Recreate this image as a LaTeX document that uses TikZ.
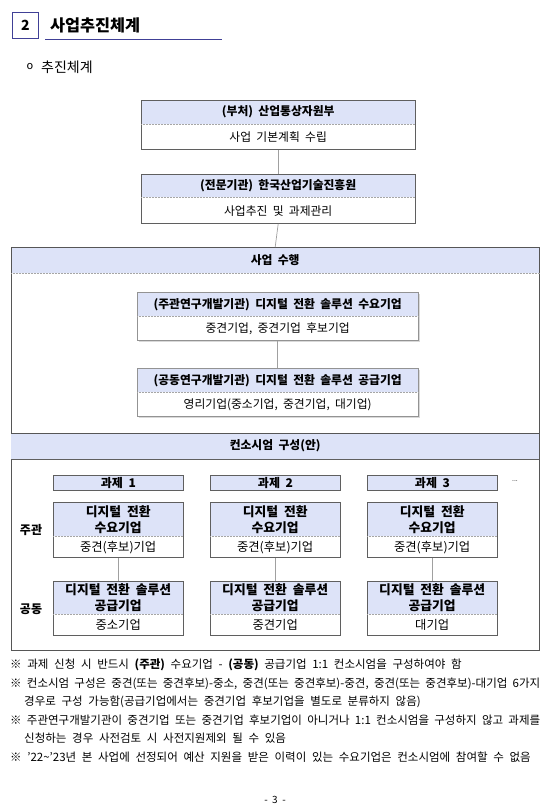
\documentclass[tikz,border=0pt]{standalone}
\usepackage{fontspec}
\setmainfont{Noto Sans CJK KR}[WordSpace=2.0]
\newfontfamily\notefont{Noto Sans CJK KR}[WordSpace={2.2,1.5,3}]
\definecolor{hdrfill}{RGB}{221,227,248}
\definecolor{navy}{RGB}{64,64,150}
\definecolor{bordc}{RGB}{95,95,95}
\definecolor{connc}{RGB}{160,160,160}
\tikzset{
  hdr/.style={fill=hdrfill, inner sep=0pt, anchor=north west, align=center,
    font=\bfseries\fontsize{11.8}{15}\selectfont},
  bdy/.style={fill=white, inner sep=0pt, anchor=north west, align=center,
    font=\fontsize{11.8}{15}\selectfont},
  bline/.style={draw=bordc, line width=0.8pt},
  fline/.style={draw=bordc!90!black, line width=0.9pt},
  sepline/.style={draw=gray!70, line width=0.5pt, densely dotted},
  conn/.style={draw=connc, line width=0.7pt},
  shad/.style={draw=gray!30, line width=1.4pt},
  lbl/.style={inner sep=0pt, font=\bfseries\fontsize{12}{14}\selectfont},
}
\begin{document}
\begin{tikzpicture}[x=1pt,y=-1pt]
\useasboundingbox (0,0) rectangle (549,812);
\fill[white] (0,0) rectangle (549,812);

% title
\node[draw=navy, line width=1.3pt, minimum width=26pt, minimum height=26pt, inner sep=0pt,
  font=\bfseries\fontsize{14}{16}\selectfont] (num) at (25.5,25.5) {2};
\node[anchor=west, inner sep=0pt, font=\bfseries\fontsize{16.3}{18}\selectfont] (title) at (50,25.5) {사업추진체계};
\coordinate (ulA) at (45,39.5);
\coordinate (ulB) at (222,39.5);
\draw[navy, line width=1pt] (ulA) -- (ulB);
\node[inner sep=0pt, font=\fontsize{11}{13}\selectfont] (bul) at (30,67) {o};
\node[anchor=west, inner sep=0pt, font=\fontsize{14}{16}\selectfont] (sub) at (41,67.5) {추진체계};

% box 1
\node[hdr, minimum width=274pt, minimum height=24pt] (b1h) at (141,100) {(부처) 산업통상자원부};
\node[bdy, minimum width=274pt, minimum height=25pt] (b1b) at (b1h.south west) {사업 기본계획 수립};
\draw[bline] (b1h.north west) rectangle (b1b.south east);
\draw[sepline] (b1h.south west) -- (b1h.south east);

% box 2
\node[hdr, minimum width=274pt, minimum height=23pt] (b2h) at (141,174) {(전문기관) 한국산업기술진흥원};
\node[bdy, minimum width=274pt, minimum height=26pt] (b2b) at (b2h.south west) {사업추진 및 과제관리};
\draw[bline] (b2h.north west) rectangle (b2b.south east);
\draw[sepline] (b2h.south west) -- (b2h.south east);

\draw[conn] (b1b.south) -- (b2h.north);

% frame
\node[hdr, minimum width=528pt, minimum height=26pt] (f1) at (11,247) {사업 수행};
\coordinate (fbr) at (539,650);
\draw[fline] (f1.north west) rectangle (fbr);
\draw[sepline] (f1.south west) -- (f1.south east);
\draw[conn] (b2b.south) -- (f1.north);

% box 3
\draw[shad] (138.5,341.2) -- (419.2,341.2) -- (419.2,293.5);
\node[hdr, minimum width=281pt, minimum height=24pt] (b3h) at (137,292) {(주관연구개발기관) 디지털 전환 솔루션 수요기업};
\node[bdy, minimum width=281pt, minimum height=24pt] (b3b) at (b3h.south west) {중견기업, 중견기업 후보기업};
\draw[bline, draw=gray!85] (b3h.north west) rectangle (b3b.south east);
\draw[sepline] (b3h.south west) -- (b3h.south east);

% box 4
\draw[shad] (138.5,417.2) -- (419.2,417.2) -- (419.2,369.5);
\node[hdr, minimum width=281pt, minimum height=24pt] (b4h) at (137,368) {(공동연구개발기관) 디지털 전환 솔루션 공급기업};
\node[bdy, minimum width=281pt, minimum height=24pt] (b4b) at (b4h.south west) {영리기업(중소기업, 중견기업, 대기업)};
\draw[bline, draw=gray!85] (b4h.north west) rectangle (b4b.south east);
\draw[sepline] (b4h.south west) -- (b4h.south east);

\draw[conn] (b3b.south) -- (b4h.north);

% consortium band
\node[hdr, minimum width=528pt, minimum height=26pt] (f2) at (11,433) {컨소시엄 구성(안)};
\draw[fline] (f2.north west) -- (f2.north east);
\draw[draw=bordc, line width=0.6pt] (f2.south west) -- (f2.south east);

% columns
\foreach \i/\x/\sup in {1/53/중소기업, 2/210/중견기업, 3/367/대기업} {
  \node[hdr, draw=bordc, line width=0.8pt, minimum width=130pt, minimum height=15pt,
    font=\bfseries\fontsize{12}{14}\selectfont] (t\i) at (\x,475) {과제 \i};
  \node[hdr, minimum width=130pt, minimum height=34pt,
    font=\bfseries\fontsize{12.8}{16}\selectfont] (d\i h) at (\x,502) {디지털 전환\\수요기업};
  \node[bdy, minimum width=130pt, minimum height=21pt,
    font=\fontsize{12.3}{14}\selectfont] (d\i b) at (d\i h.south west) {중견(후보)기업};
  \draw[bline] (d\i h.north west) rectangle (d\i b.south east);
  \draw[sepline] (d\i h.south west) -- (d\i h.south east);
  \node[hdr, minimum width=130pt, minimum height=33pt,
    font=\bfseries\fontsize{12.8}{16}\selectfont] (s\i h) at (\x,581) {디지털 전환 솔루션\\공급기업};
  \node[bdy, minimum width=130pt, minimum height=21pt,
    font=\fontsize{12.3}{14}\selectfont] (s\i b) at (s\i h.south west) {\sup};
  \draw[bline] (s\i h.north west) rectangle (s\i b.south east);
  \draw[sepline] (s\i h.south west) -- (s\i h.south east);
  \draw[conn] (d\i b.south) -- (s\i h.north);
}
\node[inner sep=0pt, font=\fontsize{7}{8}\selectfont] (dots) at (515,481) {...};
\node[lbl] (ljoo) at (31,530) {주관};
\node[lbl] (lgong) at (31,609) {공동};

% notes
\node[anchor=north west, inner sep=0pt, text width=530pt, align=justify,
  font=\notefont\fontsize{11.5}{18.5}\selectfont] (notes) at (10,659) {%
\hangindent=14pt\hangafter=1 ※ 과제 신청 시 반드시 {\bfseries (주관)} 수요기업 - {\bfseries (공동)} 공급기업 1:1 컨소시엄을 구성하여야 함\par
\hangindent=14pt\hangafter=1 ※ 컨소시엄 구성은 중견(또는 중견후보)-중소, 중견(또는 중견후보)-중견, 중견(또는 중견후보)-대기업 6가지\linebreak 경우로 구성 가능함(공급기업에서는 중견기업 후보기업을 별도로 분류하지 않음)\par
\hangindent=14pt\hangafter=1 ※ 주관연구개발기관이 중견기업 또는 중견기업 후보기업이 아니거나 1:1 컨소시엄을 구성하지 않고 과제를\linebreak 신청하는 경우 사전검토 시 사전지원제외 될 수 있음\par
\hangindent=14pt\hangafter=1 ※ ’22\textasciitilde’23년 본 사업에 선정되어 예산 지원을 받은 이력이 있는 수요기업은 컨소시엄에 참여할 수 없음\par
};
\node[inner sep=0pt, font=\fontsize{10}{12}\selectfont] (page) at (275,800) {- 3 -};
\end{tikzpicture}
\end{document}
